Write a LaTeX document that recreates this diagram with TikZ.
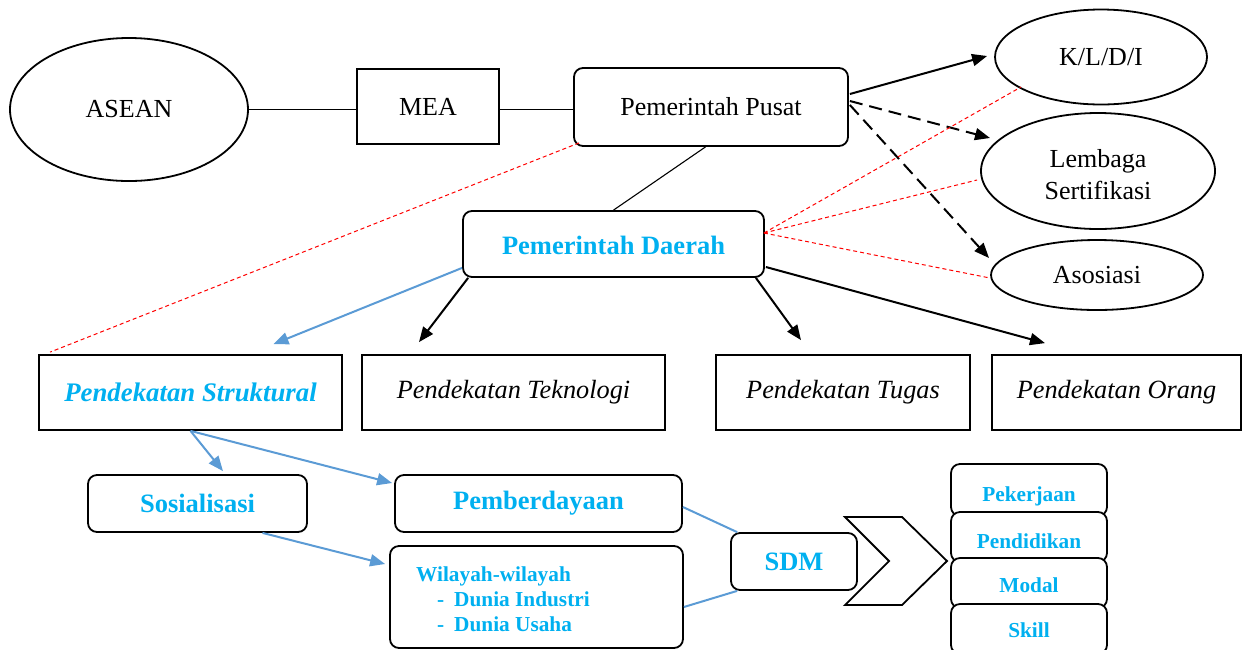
\documentclass[tikz,border=0pt]{standalone}
\usepackage{fontspec}
\setmainfont{Liberation Serif}
\usetikzlibrary{arrows.meta,shapes.geometric,calc}
\definecolor{cy}{HTML}{00B0F0}
\definecolor{bl}{HTML}{5B9BD5}
\definecolor{rd}{HTML}{FF0000}
\tikzset{
  base/.style={inner sep=0pt, font=\fontsize{26}{30}\selectfont},
  ell/.style={base, draw, ellipse, line width=1.8pt},
  sqbox/.style={base, draw, rectangle, line width=1.8pt},
  rbox/.style={base, draw, rectangle, rounded corners=9pt, line width=1.8pt, fill=white},
  cyb/.style={text=cy, font=\fontsize{26.5}{30}\selectfont\bfseries},
  cys/.style={text=cy, font=\fontsize{21.3}{25}\selectfont\bfseries},
  itx/.style={font=\fontsize{26.3}{30}\selectfont\itshape},
  thin/.style={line width=1.1pt},
  blk/.style={line width=2pt, -{Triangle[length=15pt,width=12pt]}},
  dsh/.style={line width=2pt, dash pattern=on 13pt off 7pt, -{Triangle[length=15pt,width=12pt]}},
  blu/.style={bl, line width=2pt, -{Triangle[length=15pt,width=12pt]}},
  bluline/.style={bl, line width=2pt},
  reddash/.style={rd, line width=1pt, dash pattern=on 4pt off 3pt}
}
\begin{document}
\begin{tikzpicture}[x=1pt,y=-1pt]
\useasboundingbox (0,0) rectangle (1249,649);
% top row
\node[ell, minimum width=238pt, minimum height=143pt] (asean) at (129,109.5) {ASEAN};
\node[sqbox, minimum width=142pt, minimum height=75pt] (mea) at (428,106.5) {MEA};
\node[rbox, minimum width=274pt, minimum height=78pt] (pp) at (711,107) {Pemerintah Pusat};
\node[ell, minimum width=212pt, minimum height=95pt] (kldi) at (1101,57) {K/L/D/I};
\node[ell, minimum width=234pt, minimum height=116pt] (ls) at (1098,171) {};
\node[base, anchor=base] (ls1) at (1098,167) {Lembaga};
\node[base, anchor=base] (ls2) at (1098,199) {Sertifikasi};
\node[ell, minimum width=212pt, minimum height=70pt] (aso) at (1097,275) {Asosiasi};
\node[rbox, minimum width=301pt, minimum height=66pt] (pd) at (613.5,244) {};
\node[base, cyb, anchor=base] (pdt) at (613.5,254) {Pemerintah Daerah};
% approaches
\node[sqbox, minimum width=303pt, minimum height=75pt, text=cy, font=\fontsize{26.8}{30}\selectfont\bfseries\itshape] (ps) at (190.5,392.5) {Pendekatan Struktural};
\node[sqbox, minimum width=303pt, minimum height=75pt, itx] (pt) at (513.5,392.5) {Pendekatan Teknologi};
\node[sqbox, minimum width=254pt, minimum height=75pt, itx] (ptu) at (843,392.5) {Pendekatan Tugas};
\node[sqbox, minimum width=249pt, minimum height=75pt, itx] (po) at (1116.5,392.5) {Pendekatan Orang};
% lower
\node[rbox, minimum width=219pt, minimum height=57pt, cyb] (sos) at (197.5,503.5) {Sosialisasi};
\node[rbox, minimum width=287pt, minimum height=57pt, cyb] (pem) at (538.5,503.5) {Pemberdayaan};
\node[rbox, minimum width=293pt, minimum height=102pt] (wil) at (536.5,597) {};
\node[base, cys, anchor=west] (wil1) at (416,576) {Wilayah-wilayah};
\node[base, cys, anchor=west] (wil2) at (437,599) {\makebox[17pt][l]{-}Dunia Industri};
\node[base, cys, anchor=west] (wil3) at (437,624) {\makebox[17pt][l]{-}Dunia Usaha};
\node[rbox, minimum width=126pt, minimum height=57pt, cyb] (sdm) at (794,561.5) {SDM};
% chevron
\draw[line width=1.8pt, fill=white] (845,517) -- (902,517) -- (947,561) -- (902,605) -- (845,605) -- (889,561) -- cycle;
% stack
\node[rbox, minimum width=156pt, minimum height=52pt] (pek) at (1029,490) {};
\node[base, cys, anchor=base] (pekt) at (1029,501) {Pekerjaan};
\node[rbox, minimum width=156pt, minimum height=50pt] (pen) at (1029,537) {};
\node[base, cys, anchor=base] (pent) at (1029,548) {Pendidikan};
\node[rbox, minimum width=156pt, minimum height=50pt] (mod) at (1029,583) {};
\node[base, cys, anchor=base] (modt) at (1029,592) {Modal};
\node[rbox, minimum width=156pt, minimum height=50pt] (sk) at (1029,629) {};
\node[base, cys, anchor=base] (skt) at (1029,637) {Skill};
% connectors top
\draw[thin] (asean.east) -- (asean.east -| mea.west);
\draw[thin] (mea.east |- asean.east) -- (pp.west |- asean.east);
\draw[thin] ($(pp.south)+(-5.5,0)$) -- (pd.north);
\draw[blk] ($(pp.east)+(1,-13)$) -- ($(kldi.west)+(-7,-1)$);
\draw[dsh] ($(pp.east)+(1,-6)$) -- ($(ls.center)+(-108,-33)$);
\draw[dsh] ($(pp.east)+(1,-2)$) -- ($(aso.center)+(-108,-17)$);
% red dashed
\draw[reddash] ($(pd.east)+(-1,-11)$) -- ($(kldi.center)+(-80,30)$);
\draw[reddash] ($(pd.east)+(-1,-11)$) -- ($(ls.center)+(-121,9)$);
\draw[reddash] ($(pd.east)+(-1,-11)$) -- ($(aso.center)+(-107,3)$);
\draw[reddash] ($(pp.south west)+(6,-4)$) -- ($(ps.north west)+(12,-2)$);
% PD to approaches
\draw[blu] ($(pd.south west)+(0,-10)$) -- ($(ps.north)+(83,-10)$);
\draw[blk] ($(pd.south west)+(6,0)$) -- ($(pt.north)+(-94.5,-12)$);
\draw[blk] ($(pd.south east)+(-9,0)$) -- ($(ptu.north)+(-42,-14)$);
\draw[blk] ($(pd.east)+(1,23)$) -- ($(po.north)+(-71.5,-11)$);
% structural
\draw[blu] (ps.south) -- ($(sos.north)+(25.5,-3)$);
\draw[blu] (ps.south) -- ($(pem.west)+(-2,-20.5)$);
\draw[blu] ($(sos.south)+(65,0)$) -- ($(wil.west)+(-4,-33)$);
\draw[bluline] ($(pem.east)+(0,3.5)$) -- ($(sdm.north west)+(7,0)$);
\draw[bluline] ($(wil.east)+(0,10)$) -- ($(sdm.south west)+(7,0)$);
\end{tikzpicture}
\end{document}
